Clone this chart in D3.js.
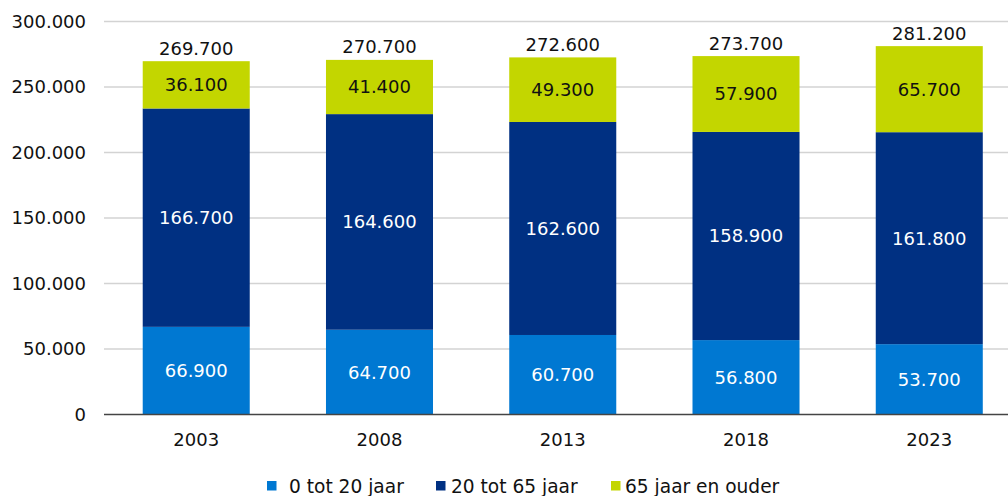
<!DOCTYPE html>
<html><head><meta charset="utf-8">
<script src="https://cdn.jsdelivr.net/npm/d3@7"></script>
<style>body{margin:0;background:#fff}svg{display:block;font-family:"DejaVu Sans",Verdana,sans-serif}</style>
</head><body><svg id="c" width="1008" height="496"></svg>
<script>
const years = ["2003","2008","2013","2018","2023"];
const seriesNames = ["0 tot 20 jaar","20 tot 65 jaar","65 jaar en ouder"];
const young = [66900,64700,60700,56800,53700];
const middle = [166700,164600,162600,158900,161800];
const old = [36100,41400,49300,57900,65700];
const totals = [269700,270700,272600,273700,281200];
const yTicks = [0,50000,100000,150000,200000,250000,300000];
const colors = ["#0078d2","#003082","#c3d600"];
const textColors = ["#fff","#fff","#111"];

const loc = d3.formatLocale({decimal:",",thousands:".",grouping:[3],currency:["€",""]});
const fmt = loc.format(",d");
const svg = d3.select("#c");
const FS = 18;
const x = d3.scaleBand().domain(years).range([104.6,1020.9]).paddingInner(0.416).paddingOuter(0.208);
const y = d3.scaleLinear().domain([0,300000]).range([414.5,21.5]);

// grid
svg.append("g").selectAll("line").data(yTicks.filter(d=>d>0)).join("line")
  .attr("x1",104).attr("x2",1008).attr("y1",d=>y(d)).attr("y2",d=>y(d))
  .attr("stroke","#d3d3d3").attr("stroke-width",1.3);

// y labels
svg.append("g").selectAll("text").data(yTicks).join("text")
  .attr("x",86).attr("y",d=>y(d)).attr("dy","0.36em").attr("text-anchor","end")
  .attr("font-size",FS).attr("fill","#111").text(d=>fmt(d));

const series = [young,middle,old];
const stack = years.map((yr,i)=>{let c=0;return series.map((s,k)=>{const o={yr,k,v:s[i],y0:c,y1:c+s[i]};c+=s[i];return o;});}).flat();

svg.append("g").selectAll("rect").data(stack).join("rect")
  .attr("x",d=>x(d.yr)).attr("width",x.bandwidth())
  .attr("y",d=>y(d.y1)).attr("height",d=>y(d.y0)-y(d.y1))
  .attr("fill",d=>colors[d.k]);

svg.append("g").selectAll("text").data(stack).join("text")
  .attr("x",d=>x(d.yr)+x.bandwidth()/2).attr("y",d=>(y(d.y0)+y(d.y1))/2)
  .attr("dy","0.36em").attr("text-anchor","middle").attr("font-size",FS)
  .attr("fill",d=>textColors[d.k]).text(d=>fmt(d.v));

// totals
svg.append("g").selectAll("text").data(years).join("text")
  .attr("x",d=>x(d)+x.bandwidth()/2)
  .attr("y",(d,i)=>y(young[i]+middle[i]+old[i])-6.5)
  .attr("text-anchor","middle").attr("font-size",FS).attr("fill","#111")
  .text((d,i)=>fmt(totals[i]));

// axis line
svg.append("line").attr("x1",104).attr("x2",1008).attr("y1",y(0)).attr("y2",y(0))
  .attr("stroke","#444").attr("stroke-width",1.3);

// x labels
svg.append("g").selectAll("text").data(years).join("text")
  .attr("x",d=>x(d)+x.bandwidth()/2).attr("y",446)
  .attr("text-anchor","middle").attr("font-size",FS).attr("fill","#111").text(d=>d);

// legend
const legSq = [267,436,611];
const legTx = [289,451,625];
const lg = svg.append("g").selectAll("g").data(seriesNames).join("g");
lg.append("rect").attr("x",(d,i)=>legSq[i]).attr("y",481).attr("width",9.5).attr("height",9.5).attr("fill",(d,i)=>colors[i]);
lg.append("text").attr("x",(d,i)=>legTx[i]).attr("y",492.5)
  .attr("font-size",18.6).attr("fill","#111").text(d=>d);
</script></body></html>
